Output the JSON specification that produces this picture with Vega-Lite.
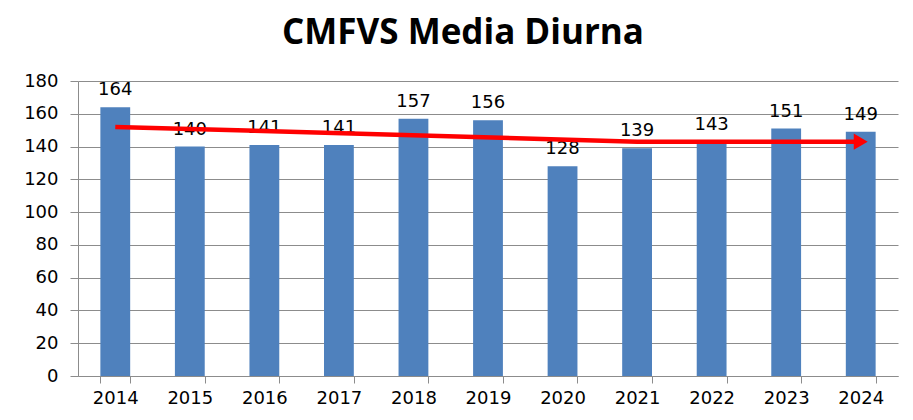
{
  "$schema": "https://vega.github.io/schema/vega-lite/v6.json",
  "autosize": "none",
  "width": 820,
  "height": 295,
  "padding": {"left": 78, "top": 81, "right": 15, "bottom": 44},
  "background": "white",
  "title": {
    "text": "CMFVS Media Diurna",
    "font": "Open Sans",
    "fontSize": 35,
    "fontWeight": "bold",
    "color": "#000000",
    "anchor": "middle",
    "dx": -25,
    "offset": 21
  },
  "config": {
    "view": {"stroke": null},
    "axis": {
      "labelFont": "DejaVu Sans",
      "labelFontSize": 18,
      "labelColor": "#000000",
      "labelOverlap": false,
      "domainColor": "#8c8c8c",
      "tickColor": "#8c8c8c",
      "gridColor": "#8c8c8c"
    }
  },
  "data": {
    "values": [
      {"year": "2014", "value": 164},
      {"year": "2015", "value": 140},
      {"year": "2016", "value": 141},
      {"year": "2017", "value": 141},
      {"year": "2018", "value": 157},
      {"year": "2019", "value": 156},
      {"year": "2020", "value": 128},
      {"year": "2021", "value": 139},
      {"year": "2022", "value": 143},
      {"year": "2023", "value": 151},
      {"year": "2024", "value": 149}
    ]
  },
  "encoding": {
    "x": {
      "field": "year", "type": "ordinal", "title": null,
      "scale": {"paddingInner": 0.6, "paddingOuter": 0.3},
      "axis": {"labelAngle": 0, "labelPadding": 6, "tickBand": "extent", "tickSize": 7, "grid": false}
    },
    "y": {
      "field": "value", "type": "quantitative", "title": null,
      "scale": {"domain": [0, 180], "nice": false},
      "axis": {"values": [0,20,40,60,80,100,120,140,160,180], "grid": true, "tickSize": 8, "labelPadding": 12}
    }
  },
  "layer": [
    {
      "mark": {"type": "bar", "color": "#4F81BD"}
    },
    {
      "mark": {"type": "text", "dy": -17, "font": "DejaVu Sans", "fontSize": 18, "color": "#000000"},
      "encoding": {
        "text": {"field": "value", "type": "quantitative"}
      }
    },
    {
      "data": {"values": [{"year": "2014", "value": 152}, {"year": "2021", "value": 143}, {"year": "2024", "value": 143}]},
      "mark": {"type": "line", "color": "#ff0000", "strokeWidth": 4.5}
    },
    {
      "data": {"values": [{"year": "2024", "value": 143}]},
      "mark": {"type": "point", "shape": "triangle-right", "filled": true, "color": "#ff0000", "size": 260, "opacity": 1}
    }
  ]
}
